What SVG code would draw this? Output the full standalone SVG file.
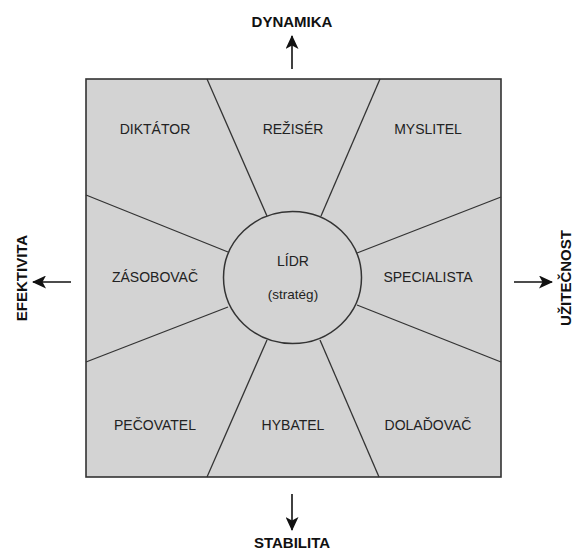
<svg xmlns="http://www.w3.org/2000/svg" width="575" height="551" viewBox="0 0 575 551">
<style>
.lbl{font-family:"Liberation Sans",Arial,sans-serif;font-size:14px;fill:#222;text-anchor:middle}
.axis{font-family:"Liberation Sans",Arial,sans-serif;font-size:15px;font-weight:bold;fill:#111;text-anchor:middle}
.spoke{stroke:#333;stroke-width:1.3;fill:none}
.arr{stroke:#111;stroke-width:1.6;fill:none;marker-end:url(#ah)}
</style>
<defs>
<marker id="ah" viewBox="0 0 14 13" refX="13" refY="6.5" markerWidth="14" markerHeight="13" markerUnits="userSpaceOnUse" orient="auto">
<path d="M0,0 L14,6.5 L0,13 L3.5,6.5 Z" fill="#111"/>
</marker>
</defs>
<rect width="575" height="551" fill="#fff"/>
<g id="frame">
<rect x="86" y="79" width="415" height="398" fill="#d3d3d3" stroke="#333" stroke-width="1.6"/>
</g>
<g id="connectors">
<line class="spoke" x1="207" y1="79" x2="267" y2="216"/>
<line class="spoke" x1="380" y1="79" x2="321" y2="216"/>
<line class="spoke" x1="86" y1="195" x2="228" y2="252"/>
<line class="spoke" x1="86" y1="362" x2="228" y2="307"/>
<line class="spoke" x1="501" y1="197" x2="357" y2="253"/>
<line class="spoke" x1="501" y1="362" x2="357" y2="305"/>
<line class="spoke" x1="207" y1="477" x2="267" y2="340"/>
<line class="spoke" x1="379" y1="477" x2="320" y2="340"/>
<line class="arr" x1="292" y1="69" x2="292" y2="36"/>
<line class="arr" x1="292" y1="494" x2="292" y2="530"/>
<line class="arr" x1="71" y1="282" x2="33" y2="282"/>
<line class="arr" x1="514" y1="282" x2="552" y2="282"/>
</g>
<g id="lidr">
<ellipse cx="292.5" cy="277.5" rx="69" ry="66" fill="#d3d3d3" stroke="#333" stroke-width="1.5"/>
<text class="lbl" x="293" y="266">LÍDR</text>
<text class="lbl" x="293" y="299" style="font-size:13.5px">(stratég)</text>
</g>
<g id="diktator"><text class="lbl" x="155" y="134">DIKTÁTOR</text></g>
<g id="reziser"><text class="lbl" x="293" y="134">REŽISÉR</text></g>
<g id="myslitel"><text class="lbl" x="428" y="134">MYSLITEL</text></g>
<g id="zasobovac"><text class="lbl" x="155" y="282">ZÁSOBOVAČ</text></g>
<g id="specialista"><text class="lbl" x="428" y="282">SPECIALISTA</text></g>
<g id="pecovatel"><text class="lbl" x="155" y="430">PEČOVATEL</text></g>
<g id="hybatel"><text class="lbl" x="293" y="430">HYBATEL</text></g>
<g id="doladovac"><text class="lbl" x="428" y="430">DOLAĎOVAČ</text></g>
<g id="axes">
<text class="axis" x="292" y="27">DYNAMIKA</text>
<text class="axis" x="292" y="548">STABILITA</text>
<text class="axis" transform="translate(27,278) rotate(-90)">EFEKTIVITA</text>
<text class="axis" transform="translate(571,278) rotate(-90)">UŽITEČNOST</text>
</g>
</svg>
